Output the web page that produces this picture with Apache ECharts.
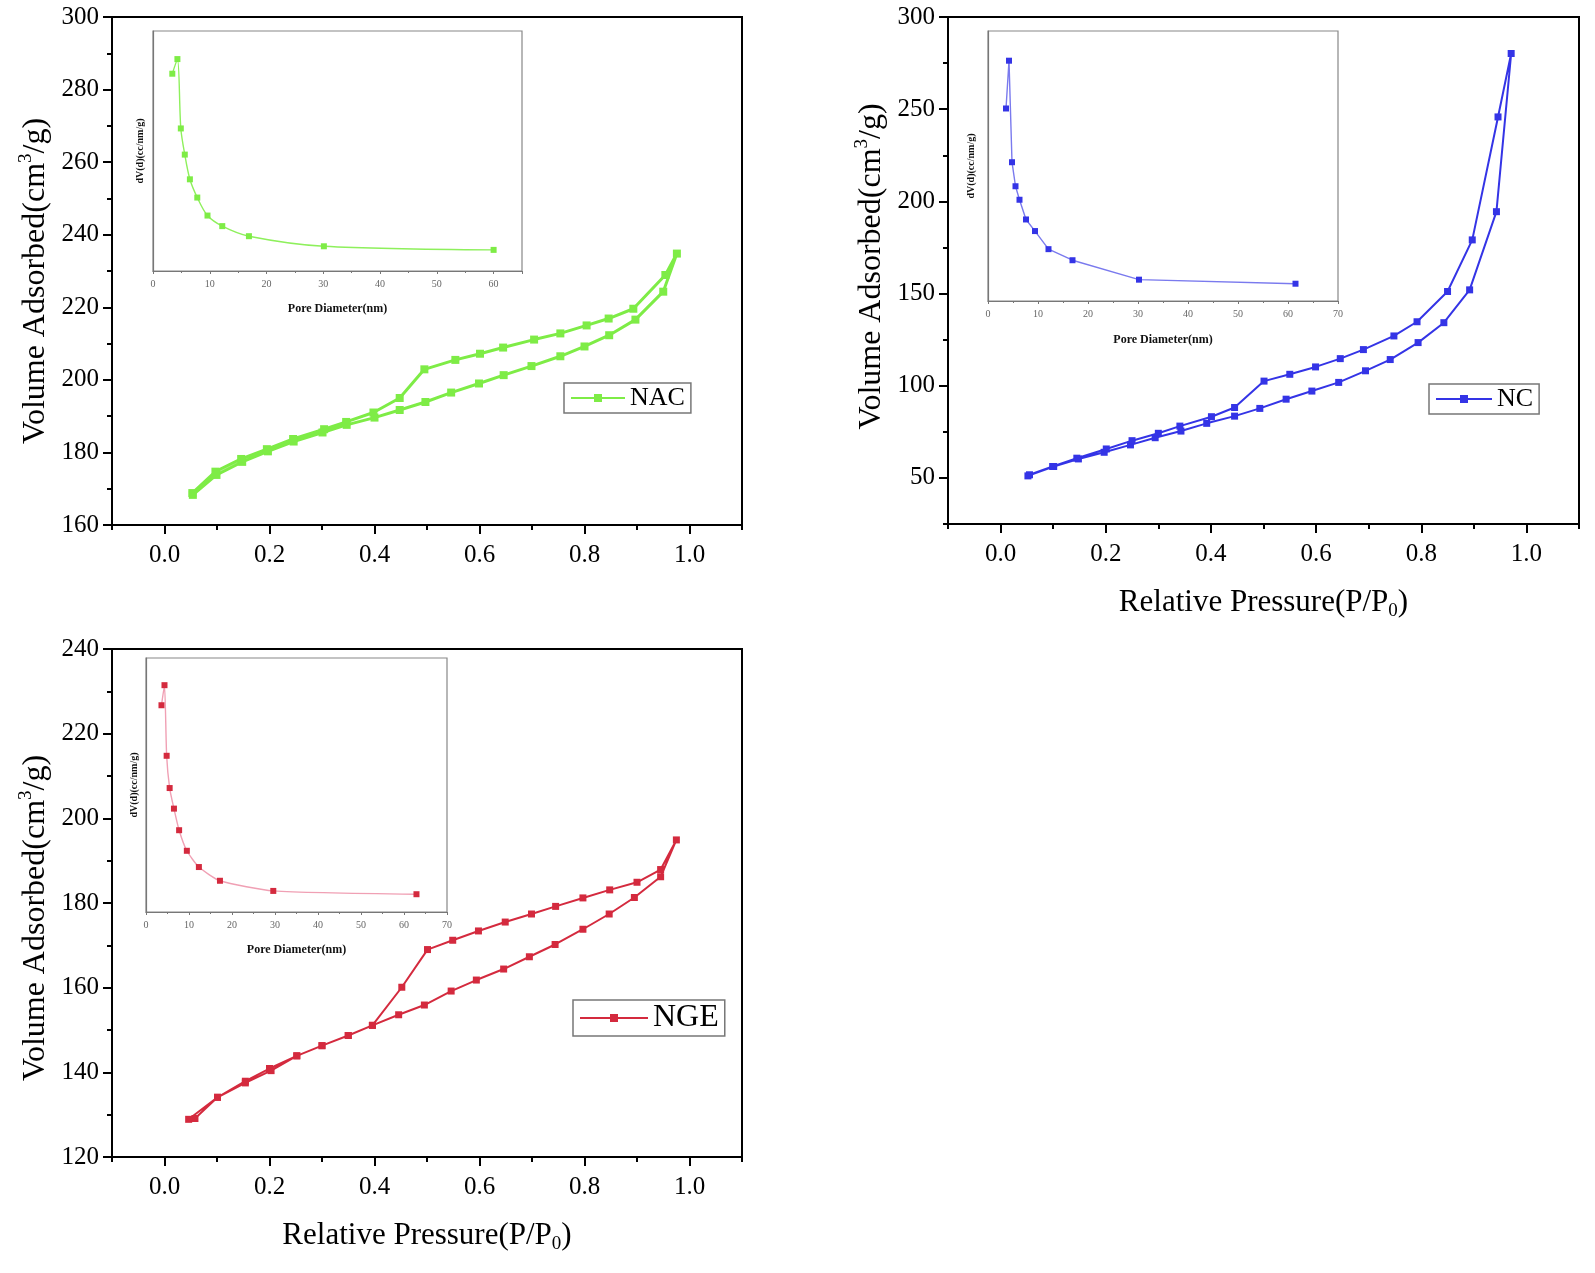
<!DOCTYPE html>
<html><head><meta charset="utf-8">
<script src="https://cdn.jsdelivr.net/npm/echarts@6/dist/echarts.min.js"></script>
<style>html,body{margin:0;padding:0;background:#fff}#c{width:1595px;height:1273px}</style>
</head><body><div id="c"></div>
<script>
// ---- tick labels ----
const pressureTicks = [0, 0.2, 0.4, 0.6, 0.8, 1.0];
const pressureMinorTicks = [-0.1, 0.1, 0.3, 0.5, 0.7, 0.9, 1.1];
const nacVolumeTicks = [160, 180, 200, 220, 240, 260, 280, 300];
const nacVolumeMinor = [170, 190, 210, 230, 250, 270, 290];
const ncVolumeTicks = [50, 100, 150, 200, 250, 300];
const ncVolumeMinor = [25, 75, 125, 175, 225, 275];
const ngeVolumeTicks = [120, 140, 160, 180, 200, 220, 240];
const ngeVolumeMinor = [130, 150, 170, 190, 210, 230];
const poreTicks60 = [0, 10, 20, 30, 40, 50, 60];
const poreTicks70 = [0, 10, 20, 30, 40, 50, 60, 70];

// ---- isotherms (adsorption then desorption branch) ----
const nacAdsP = [0.054,0.099,0.148,0.197,0.246,0.301,0.347,0.400,0.448,0.497,0.546,0.599,0.646,0.699,0.754,0.800,0.847,0.897,0.950,0.976];
const nacAdsV = [168.3,173.8,177.4,180.3,183.0,185.5,187.6,189.6,191.7,193.9,196.5,199.0,201.3,203.8,206.5,209.2,212.3,216.6,224.3,234.8];
const nacDesP = [0.954,0.893,0.846,0.804,0.754,0.704,0.645,0.601,0.554,0.495,0.448,0.398,0.346,0.304,0.245,0.195,0.146,0.097,0.053];
const nacDesV = [228.9,219.6,216.9,215.0,212.8,211.1,208.9,207.2,205.5,202.9,195.0,191.0,188.4,186.4,183.7,180.9,178.2,174.7,168.8];

const ncAdsP = [0.052,0.101,0.148,0.197,0.247,0.294,0.343,0.392,0.445,0.493,0.543,0.592,0.643,0.694,0.741,0.794,0.843,0.892,0.943,0.971];
const ncAdsV = [51.1,56.2,60.3,63.9,67.9,71.8,75.4,79.6,83.5,87.7,92.7,97.1,101.8,108.1,114.2,123.4,134.2,152.0,194.4,280.2];
const ncDesP = [0.946,0.897,0.850,0.792,0.748,0.690,0.646,0.599,0.550,0.501,0.445,0.401,0.341,0.300,0.250,0.201,0.145,0.099,0.055];
const ncDesV = [245.8,179.1,151.1,134.7,127.0,119.6,114.7,110.2,106.2,102.5,88.2,83.2,78.1,74.2,70.2,65.7,60.7,56.2,51.7];

const ngeAdsP = [0.058,0.101,0.154,0.203,0.252,0.300,0.350,0.396,0.446,0.495,0.546,0.594,0.646,0.695,0.744,0.797,0.847,0.895,0.945,0.975];
const ngeAdsV = [129.1,134.1,137.5,140.4,143.9,146.3,148.7,151.1,153.6,155.9,159.2,161.8,164.4,167.3,170.2,173.8,177.4,181.3,186.2,194.9];
const ngeDesP = [0.945,0.900,0.848,0.797,0.745,0.699,0.649,0.598,0.549,0.501,0.452,0.396,0.350,0.300,0.252,0.200,0.154,0.101,0.046];
const ngeDesV = [187.9,184.9,183.1,181.2,179.2,177.4,175.5,173.4,171.2,169.0,160.1,151.1,148.7,146.3,143.9,140.9,137.9,134.1,128.9];

// ---- pore size distributions (insets, relative units) ----
const nacPoreD  = [3.4,4.3,4.9,5.6,6.5,7.8,9.6,12.2,16.9,30.1,60.0];
const nacPoreDV = [82.2,88.3,59.4,48.5,38.2,30.6,23.1,18.7,14.5,10.3,8.8];
const ncPoreD   = [3.6,4.2,4.8,5.5,6.3,7.6,9.4,12.1,16.9,30.2,61.5];
const ncPoreDV  = [71.3,89.0,51.4,42.5,37.5,30.2,25.9,19.2,15.1,7.9,6.4];
const ngePoreD  = [3.6,4.3,4.8,5.5,6.5,7.7,9.5,12.3,17.2,29.6,62.9];
const ngePoreDV = [81.4,89.3,61.5,48.8,40.7,32.2,24.1,17.7,12.3,8.3,7.0];

const seriesNames = ['NAC', 'NC', 'NGE'];

const SERIF = '"Liberation Serif","Times New Roman",serif';
const pairs = (xs, ys) => xs.map((x, i) => [x, ys[i]]);
const loop = (ax, ay, dx, dy) => pairs(ax, ay).concat(pairs(dx, dy));

const yName = '{a|Volume Adsorbed(cm}{sup|3}{a|/g)}';
const xName = '{a|Relative Pressure(P/P}{sub|0}{a|)}';
function nameStyle(fs, pad) {
  return {
    fontFamily: SERIF, fontSize: fs, color: '#000', padding: pad,
    rich: {
      a: {fontFamily: SERIF, fontSize: fs, color: '#000', lineHeight: fs + 6},
      sup: {fontFamily: SERIF, fontSize: Math.round(fs * 0.6), color: '#000', verticalAlign: 'top', lineHeight: fs + 6},
      sub: {fontFamily: SERIF, fontSize: Math.round(fs * 0.6), color: '#000', verticalAlign: 'bottom', lineHeight: fs + 6}
    }
  };
}
const black = {color: '#000', width: 2};

function mainX(grid, showName) {
  return [{
    type: 'value', gridIndex: grid, min: -0.1, max: 1.1, position: 'bottom',
    axisLine: {show: true, onZero: false, lineStyle: black},
    axisTick: {show: true, customValues: pressureTicks, length: 9, lineStyle: black},
    axisLabel: {show: true, customValues: pressureTicks, formatter: v => v.toFixed(1),
      fontFamily: SERIF, fontSize: 25, color: '#000', margin: 18},
    splitLine: {show: false},
    name: showName ? xName : '', nameLocation: 'middle', nameGap: 60, nameTextStyle: nameStyle(31, 0)
  }, {
    type: 'value', gridIndex: grid, min: -0.1, max: 1.1, position: 'bottom',
    axisLine: {show: false, onZero: false},
    axisTick: {show: true, customValues: pressureMinorTicks, length: 5, lineStyle: black},
    axisLabel: {show: false}, splitLine: {show: false}
  }];
}
function mainY(grid, min, max, major, minor, pad) {
  return [{
    type: 'value', gridIndex: grid, min: min, max: max, position: 'left',
    axisLine: {show: true, onZero: false, lineStyle: black},
    axisTick: {show: true, customValues: major, length: 9, lineStyle: black},
    axisLabel: {show: true, customValues: major, fontFamily: SERIF, fontSize: 25, color: '#000', margin: 13},
    splitLine: {show: false},
    name: yName, nameLocation: 'middle', nameGap: 57, nameTextStyle: nameStyle(32, pad)
  }, {
    type: 'value', gridIndex: grid, min: min, max: max, position: 'left',
    axisLine: {show: false, onZero: false},
    axisTick: {show: true, customValues: minor, length: 5, lineStyle: black},
    axisLabel: {show: false}, splitLine: {show: false}
  }];
}
function insetX(grid, max, labels, gap) {
  return {
    type: 'value', gridIndex: grid, min: 0, max: max, interval: 10, position: 'bottom',
    axisLine: {show: true, onZero: false, lineStyle: {color: '#777', width: 1.2}},
    axisTick: {show: true, length: 3, lineStyle: {color: '#777'}},
    minorTick: {show: true, splitNumber: 2, length: 2, lineStyle: {color: '#777'}},
    axisLabel: {customValues: labels, fontFamily: SERIF, fontSize: 10, color: '#666', margin: 8},
    splitLine: {show: false},
    name: 'Pore Diameter(nm)', nameLocation: 'middle', nameGap: gap,
    nameTextStyle: {fontFamily: SERIF, fontSize: 12, fontWeight: 'bold', color: '#111'}
  };
}
function insetY(grid, gap) {
  return {
    type: 'value', gridIndex: grid, min: 0, max: 100, position: 'left',
    axisLine: {show: true, onZero: false, lineStyle: {color: '#777', width: 1.2}},
    axisTick: {show: false}, axisLabel: {show: false}, splitLine: {show: false},
    name: 'dV(d)(cc/nm/g)', nameLocation: 'middle', nameGap: gap,
    nameTextStyle: {fontFamily: SERIF, fontSize: 10, fontWeight: 'bold', color: '#111'}
  };
}

const mainGrid = {show: true, borderColor: '#000', borderWidth: 2, backgroundColor: 'transparent'};
const insetGrid = {show: true, borderColor: '#888', borderWidth: 1.2, backgroundColor: '#fff'};

const colors = {NAC: '#7eec46', NC: '#3434e6', NGE: '#d42a3e'};
const insetLine = {NAC: '#8ef05c', NC: '#7a7aee', NGE: '#f0a0b4'};

function mainSeries(name, x, y, data, w, s) {
  return {
    type: 'line', name: name, xAxisIndex: x, yAxisIndex: y, data: data,
    symbol: 'rect', symbolSize: s, showSymbol: true,
    lineStyle: {color: colors[name], width: w},
    itemStyle: {color: colors[name]}, z: 5, animation: false
  };
}
function insetSeries(name, x, y, data, smooth) {
  return {
    type: 'line', name: name + ' PSD', xAxisIndex: x, yAxisIndex: y, data: data,
    symbol: 'rect', symbolSize: 6, smooth: smooth,
    lineStyle: {color: insetLine[name], width: 1.4},
    itemStyle: {color: colors[name]}, z: 6, animation: false
  };
}
function legendBox(name, left, top, fs, iw) {
  return {
    data: [name], left: left, top: top, orient: 'horizontal', selectedMode: false,
    itemWidth: iw, itemHeight: 10, itemGap: 4,
    borderColor: '#777', borderWidth: 1.5, padding: [2, 6, 2, 6],
    textStyle: {fontFamily: SERIF, fontSize: fs, color: '#000'}
  };
}

const option = {
  backgroundColor: '#fff',
  animation: false,
  grid: [
    Object.assign({left: 112, top: 17, width: 630, height: 508}, mainGrid),
    Object.assign({left: 948, top: 17, width: 631, height: 507}, mainGrid),
    Object.assign({left: 112, top: 649, width: 630, height: 508}, mainGrid),
    Object.assign({left: 153, top: 31, width: 369, height: 240}, insetGrid),
    Object.assign({left: 988, top: 31, width: 350, height: 270}, insetGrid),
    Object.assign({left: 146, top: 658, width: 301, height: 254}, insetGrid)
  ],
  xAxis: [].concat(
    mainX(0, false), mainX(1, true), mainX(2, true),
    [insetX(3, 65, poreTicks60, 32), insetX(4, 70, poreTicks70, 33), insetX(5, 70, poreTicks70, 32)]
  ),
  yAxis: [].concat(
    mainY(0, 160, 300, nacVolumeTicks, nacVolumeMinor, [0, 20, 0, 0]),
    mainY(1, 25, 300, ncVolumeTicks, ncVolumeMinor, [0, 0, 0, 8]),
    mainY(2, 120, 240, ngeVolumeTicks, ngeVolumeMinor, [0, 30, 0, 0]),
    [insetY(3, 8), insetY(4, 12), insetY(5, 7)]
  ),
  legend: [
    legendBox(seriesNames[0], 564, 383, 26, 54),
    legendBox(seriesNames[1], 1429, 384, 26, 56),
    legendBox(seriesNames[2], 573, 1000, 32, 68)
  ],
  series: [
    mainSeries(seriesNames[0], 0, 0, loop(nacAdsP, nacAdsV, nacDesP, nacDesV), 3, 8),
    mainSeries(seriesNames[1], 2, 2, loop(ncAdsP, ncAdsV, ncDesP, ncDesV), 2, 7),
    mainSeries(seriesNames[2], 4, 4, loop(ngeAdsP, ngeAdsV, ngeDesP, ngeDesV), 2, 7),
    insetSeries('NAC', 6, 6, pairs(nacPoreD, nacPoreDV), 0.3),
    insetSeries('NC', 7, 7, pairs(ncPoreD, ncPoreDV), false),
    insetSeries('NGE', 8, 8, pairs(ngePoreD, ngePoreDV), 0.2)
  ]
};
const chart = echarts.init(document.getElementById('c'), null, {renderer: 'canvas'});
chart.setOption(option);
</script>
</body></html>
